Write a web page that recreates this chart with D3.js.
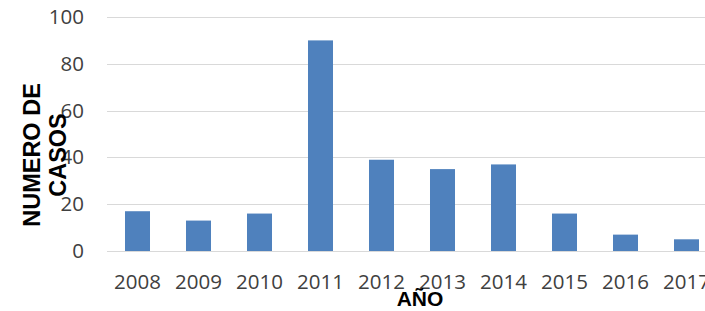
<!DOCTYPE html>
<html>
    <head>
        <meta charset="utf-8">
        <style>
            body { margin: 0; background: #fff; }
            svg { display: block; }
        </style>
    </head>
    <body>
        <svg></svg>
        <script src="https://cdn.jsdelivr.net/npm/d3@7"></script>
        <script>
            const width = 705;
            const height = 311;

            // data
            const years = ['2008', '2009', '2010', '2011', '2012', '2013', '2014', '2015', '2016', '2017'];
            const casos = [17, 13, 16, 90, 39, 35, 37, 16, 7, 5];
            const yTicks = [0, 20, 40, 60, 80, 100];

            const svg = d3.select('svg')
                .attr('width', width).attr('height', height);

            const x = d3.scaleBand()
                .domain(years)
                .range([107, 717])
                .paddingInner(0.59)
                .paddingOuter(0.295);

            const y = d3.scaleLinear()
                .domain([0, 100])
                .range([251, 17]);

            // gridlines
            svg.append('g')
                .selectAll('line')
                .data(yTicks)
                .enter().append('line')
                .attr('x1', 107)
                .attr('x2', width)
                .attr('y1', d => Math.round(y(d)) + 0.5)
                .attr('y2', d => Math.round(y(d)) + 0.5)
                .style('stroke', '#d9d9d9')
                .style('stroke-width', 1);

            // bars
            svg.append('g')
                .selectAll('rect')
                .data(casos)
                .enter().append('rect')
                .attr('x', (d, i) => x(years[i]))
                .attr('y', d => y(d))
                .attr('width', x.bandwidth())
                .attr('height', d => y(0) - y(d))
                .style('fill', '#4f81bd');

            // y axis labels
            const yAxis = svg.append('g')
                .attr('transform', 'translate(84,0)')
                .call(d3.axisLeft(y).tickValues(yTicks).tickSize(0).tickPadding(0));
            yAxis.select('.domain').remove();
            yAxis.selectAll('text')
                .style('font-family', '"Open Sans", sans-serif')
                .style('font-size', '20.5px')
                .style('fill', '#404040');

            // x axis labels
            const xAxis = svg.append('g')
                .attr('transform', 'translate(0,267)')
                .call(d3.axisBottom(x).tickSize(0).tickPadding(0));
            xAxis.select('.domain').remove();
            xAxis.selectAll('text')
                .attr('dy', '1.05em')
                .style('font-family', '"Open Sans", sans-serif')
                .style('font-size', '20.5px')
                .style('fill', '#404040');

            // axis titles
            svg.append('text')
                .attr('x', 420)
                .attr('y', 306)
                .attr('text-anchor', 'middle')
                .style('font-family', '"Liberation Sans", Arial, sans-serif')
                .style('font-size', '21px')
                .style('font-weight', 'bold')
                .style('fill', '#000')
                .text('AÑO');

            const yTitle = svg.append('text')
                .attr('transform', 'translate(40,155) rotate(-90)')
                .attr('text-anchor', 'middle')
                .style('font-family', '"Liberation Sans", Arial, sans-serif')
                .style('font-size', '23.5px')
                .style('font-weight', 'bold')
                .style('fill', '#000');
            yTitle.append('tspan').attr('x', 0).attr('y', 0).text('NUMERO DE');
            yTitle.append('tspan').attr('x', 0).attr('y', 25.5).text('CASOS');
        </script>
    </body>
</html>
